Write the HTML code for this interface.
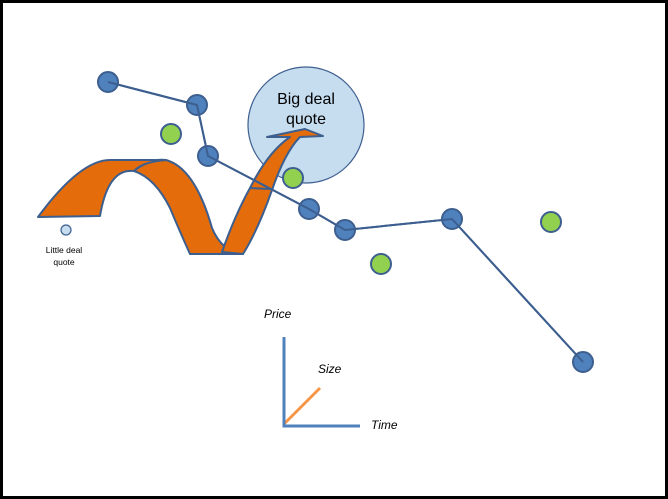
<!DOCTYPE html><html><head><style>body{margin:0;background:#fff}</style></head><body>
<svg width="668" height="499" xmlns="http://www.w3.org/2000/svg" style="display:block">
<rect x="1.5" y="1.5" width="665" height="496" fill="#fff" stroke="#000" stroke-width="3"/>
<circle cx="306" cy="125" r="58" fill="#c6dcef" stroke="#3d5f8f" stroke-width="1.2"/>
<text x="306" y="104" font-family="Liberation Sans, sans-serif" font-size="16" text-anchor="middle" fill="#000">Big deal</text>
<text x="306" y="124" font-family="Liberation Sans, sans-serif" font-size="16" text-anchor="middle" fill="#000">quote</text>
<g fill="#e46c0a" stroke="#3d5f8f" stroke-width="2" stroke-linejoin="round">
<path d="M134,171 Q150,158 166,160 Q195,168 212,228 Q222,252 243,254 L190,254 Q180,232 170,208 Q155,178 134,171 Z"/>
<path d="M38,217 Q80,160 110,160 L166,160 Q142,162 134,171 Q108,168 100,216 Z"/>
<path d="M222,252 Q235,215 250,188 Q268,152 290,137 L267,137 L305,129 L323,136 L300,137 Q285,152 272,190 Q258,230 243,254 Z"/>
<path d="M250,188 L271,189" fill="none"/>
</g>
<polyline points="108,82 197,105 208,156 309,209 345,230 452,219 583,362" fill="none" stroke="#3d5f8f" stroke-width="2"/>
<g fill="#4f81bd" stroke="#3d5f8f" stroke-width="2">
<circle cx="108" cy="82" r="10"/><circle cx="197" cy="105" r="10"/><circle cx="208" cy="156" r="10"/>
<circle cx="309" cy="209" r="10"/><circle cx="345" cy="230" r="10"/><circle cx="452" cy="219" r="10"/><circle cx="583" cy="362" r="10"/>
</g>
<polyline points="108,82 197,105 208,156 309,209 345,230 452,219 583,362" fill="none" stroke="#3d5f8f" stroke-width="2"/>
<g fill="#92d050" stroke="#3d5f8f" stroke-width="2">
<circle cx="171" cy="134" r="10"/><circle cx="293" cy="178" r="10"/><circle cx="381" cy="264" r="10"/><circle cx="551" cy="222" r="10"/>
</g>
<circle cx="66" cy="230" r="5" fill="#c6dcef" stroke="#3d5f8f" stroke-width="1.2"/>
<text x="64" y="253" font-family="Liberation Sans, sans-serif" font-size="8.5" text-anchor="middle">Little  deal</text>
<text x="64" y="265" font-family="Liberation Sans, sans-serif" font-size="8.5" text-anchor="middle">quote</text>
<line x1="284" y1="424" x2="320" y2="388" stroke="#f79646" stroke-width="3"/>
<polyline points="284,337 284,426 360,426" fill="none" stroke="#4f81bd" stroke-width="3"/>
<g font-family="Liberation Sans, sans-serif" font-size="12" font-style="italic">
<text x="264" y="318">Price</text><text x="318" y="373">Size</text><text x="371" y="429">Time</text>
</g>
</svg></body></html>
